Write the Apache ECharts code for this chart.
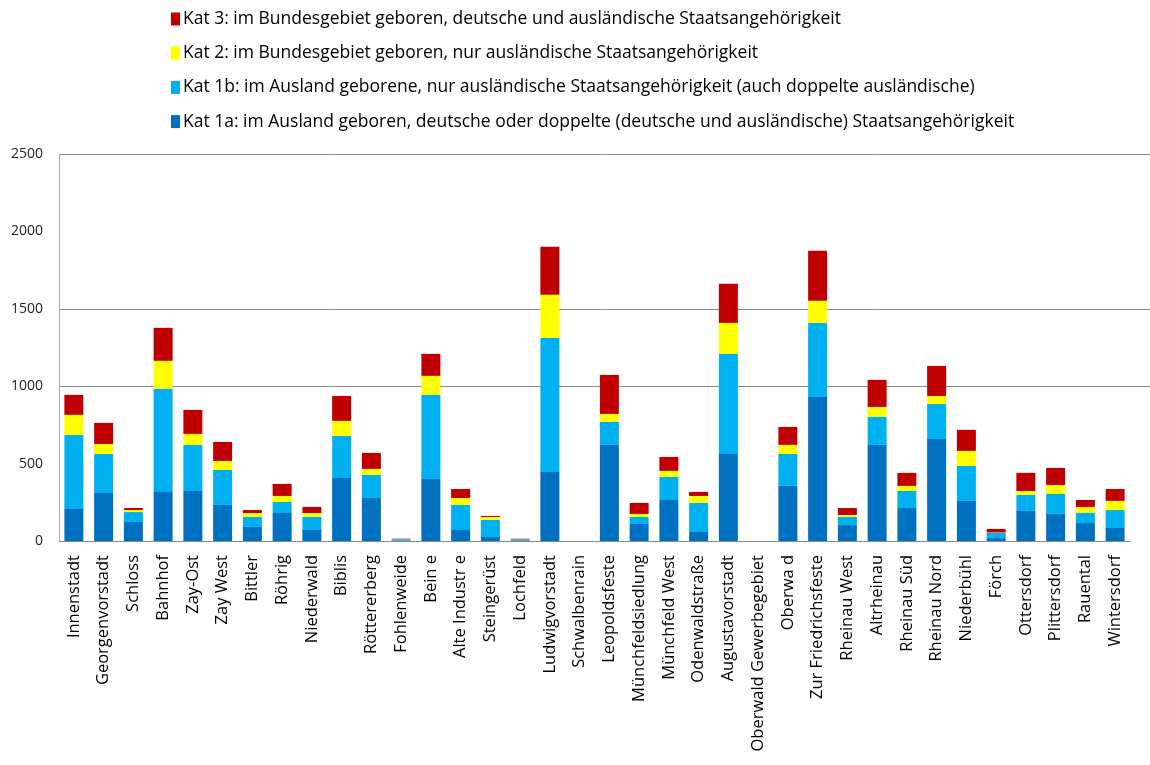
<!DOCTYPE html>
<html><head><meta charset="utf-8">
<script src="https://cdn.jsdelivr.net/npm/echarts@6/dist/echarts.min.js"></script>
<style>html,body{margin:0;padding:0;background:#fff}#c{width:1150px;height:765px}</style>
</head><body><div id="c"></div>
<script>
const categories = ["Innenstadt","Georgenvorstadt","Schloss","Bahnhof","Zay-Ost","Zay West","Bittler","Röhrig","Niederwald","Biblis","Röttererberg","Fohlenweide","Bein e","Alte Industr e","Steingerüst","Lochfeld","Ludwigvorstadt","Schwalbenrain","Leopoldsfeste","Münchfeldsiedlung","Münchfeld West","Odenwaldstraße","Augustavorstadt","Oberwald Gewerbegebiet","Oberwa d","Zur Friedrichsfeste","Rheinau West","Altrheinau","Rheinau Süd","Rheinau Nord","Niederbühl","Förch","Ottersdorf","Plittersdorf","Rauental","Wintersdorf"];
const kat1a = [207,310,123,317,323,233,91,181,71,407,278,3,401,71,26,4,446,0,621,110,265,58,562,0,356,931,103,621,213,659,259,19,194,175,116,84];
const kat1b = [478,252,64,666,298,226,64,71,84,272,149,8,543,162,110,7,866,0,148,45,149,188,647,0,206,478,52,181,110,227,226,33,103,129,65,116];
const kat2  = [130,65,13,181,71,58,26,39,26,97,39,1,123,45,19,1,279,0,52,20,39,45,200,0,59,143,13,64,33,51,97,3,26,58,39,59];
const kat3  = [129,136,13,213,155,123,19,78,39,161,103,3,142,58,7,3,310,0,252,71,90,26,253,0,116,323,45,175,84,194,136,23,117,110,45,77];
const yTicks = [0,500,1000,1500,2000,2500];
const seriesNames = [
  "Kat 1a: im Ausland geboren, deutsche oder doppelte (deutsche und ausländische) Staatsangehörigkeit",
  "Kat 1b: im Ausland geborene, nur ausländische Staatsangehörigkeit (auch doppelte ausländische)",
  "Kat 2: im Bundesgebiet geboren, nur ausländische Staatsangehörigkeit",
  "Kat 3: im Bundesgebiet geboren, deutsche und ausländische Staatsangehörigkeit"
];
const colors = ["#0070C0","#00B0F0","#FFFF00","#C00000"];
const values = [kat1a,kat1b,kat2,kat3];

const chart = echarts.init(document.getElementById('c'), null, {renderer:'canvas'});
const font = "Open Sans";
chart.setOption({
  animation:false,
  backgroundColor:'#fff',
  legend:{
    orient:'vertical', left:166, top:5,
    data:[seriesNames[3],seriesNames[2],seriesNames[1],seriesNames[0]],
    itemWidth:9, itemHeight:13, itemGap:16.2,
    icon:'rect',
    textStyle:{fontFamily:font,fontSize:17.5,color:'#000',padding:[0,0,0,-2]}
  },
  grid:[
    {left:59, right:0, top:154, height:387},
    {left:59, width:1071, top:154, height:387}
  ],
  xAxis:[
    {gridIndex:0, type:'value', show:false, min:0, max:1},
    {gridIndex:1, type:'category', data:categories,
     axisLine:{lineStyle:{color:'#888',width:1}}, axisTick:{show:false},
     axisLabel:{interval:0, rotate:90, margin:14, fontFamily:font, fontSize:16.5, color:'#000'}}
  ],
  yAxis:[
    {gridIndex:0, type:'value', min:0, max:2500, interval:500,
     axisLine:{show:false}, axisTick:{show:false}, axisLabel:{show:false},
     splitLine:{show:true, lineStyle:{color:['transparent','transparent','#888','#888','transparent','#888'], width:1}}},
    {gridIndex:1, type:'value', min:0, max:2500, interval:500,
     axisLine:{show:true, lineStyle:{color:'#aaa'}}, axisTick:{show:false},
     splitLine:{show:false},
     axisLabel:{margin:16, fontFamily:font, fontSize:14, color:'#222',
       formatter: v => String(v)}}
  ],
  series: values.map((v,i)=>({
    name:seriesNames[i], type:'bar', stack:'total', xAxisIndex:1, yAxisIndex:1,
    data:v, barWidth:19, itemStyle:{color:colors[i]}
  }))
});
</script></body></html>
